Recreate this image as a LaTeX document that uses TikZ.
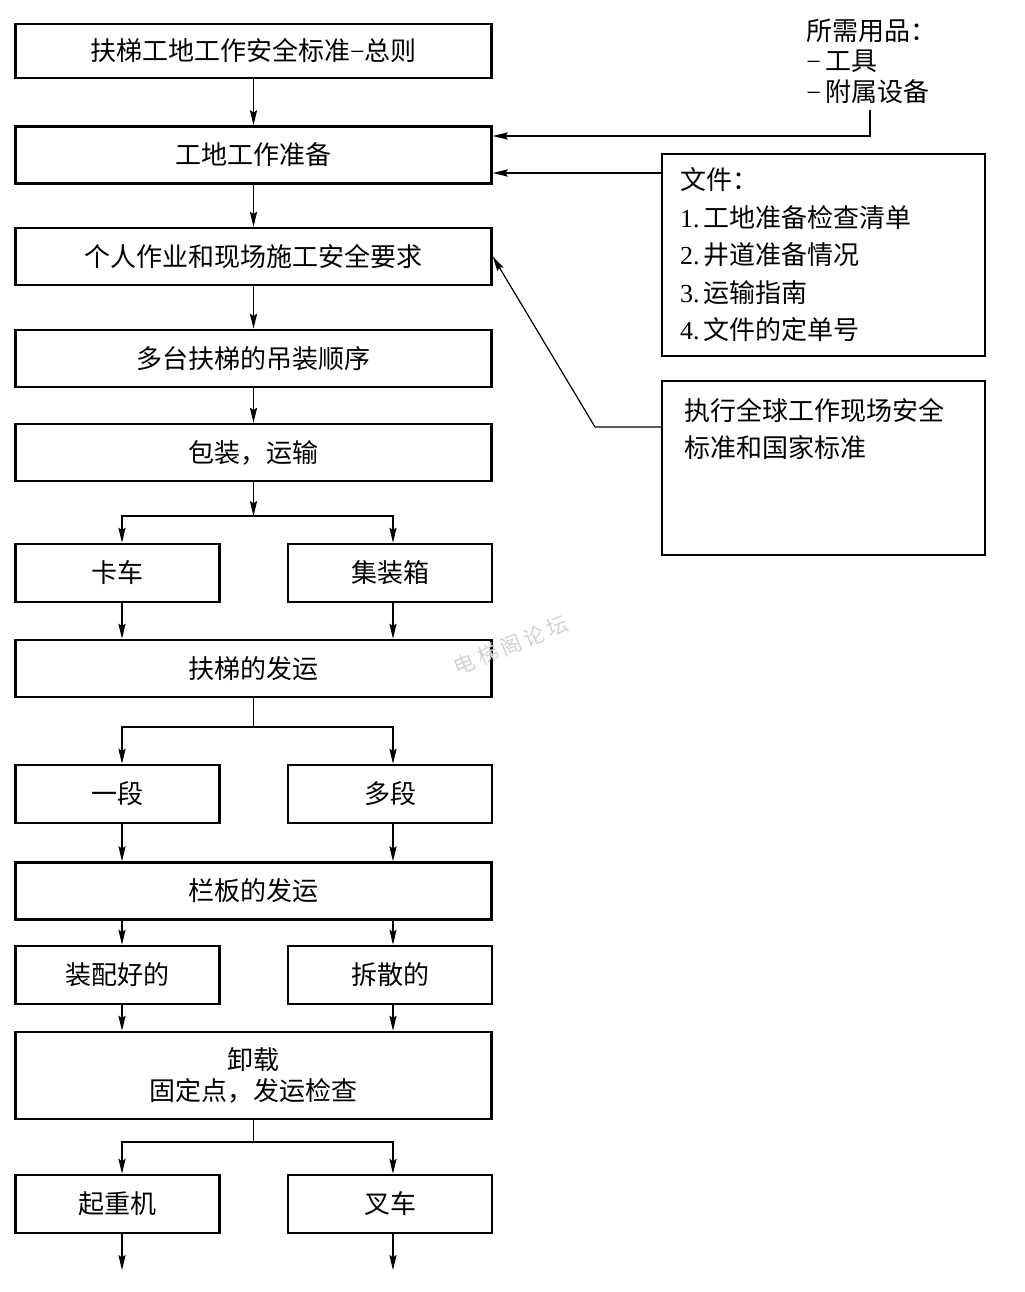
\documentclass[tikz,border=0pt]{standalone}
\usepackage{fontspec}
\setmainfont{Liberation Serif}
\newfontfamily\cjk{Noto Sans CJK SC}
\usetikzlibrary{arrows.meta}
\newcommand{\rmn}[1]{{\rmfamily #1}}
\begin{document}
\begin{tikzpicture}[x=0.5pt,y=-0.5pt,
  txt/.style={font=\cjk\fontsize{13}{15.5}\selectfont},
  box/.style={txt, draw, line width=1.3pt, minimum width=238pt, minimum height=28.5pt, inner sep=0pt, align=center},
  sbox/.style={box, minimum width=102pt, minimum height=29pt},
  conn/.style={line width=0.6pt},
  arr/.style={conn, -{Stealth[length=7.5pt,width=3.6pt,inset=1.2pt]}},
]
\useasboundingbox (0,0) rectangle (1024,1292);

% main column
\node[box, minimum height=27pt] (b1) at (253.5,51) {扶梯工地工作安全标准\rmn{−}总则};
\node[box] (b2) at (253.5,155) {工地工作准备};
\node[box] (b3) at (253.5,256.5) {个人作业和现场施工安全要求};
\node[box] (b4) at (253.5,358.5) {多台扶梯的吊装顺序};
\node[box] (b5) at (253.5,452.5) {包装，运输};
\node[sbox] (truck) at (117.5,573) {卡车};
\node[sbox] (cont) at (390,573) {集装箱};
\node[box] (b6) at (253.5,668.5) {扶梯的发运};
\node[sbox] (one) at (117.5,794) {一段};
\node[sbox] (multi) at (390,794) {多段};
\node[box] (b7) at (253.5,891) {栏板的发运};
\node[sbox] (asm) at (117.5,975) {装配好的};
\node[sbox] (dis) at (390,975) {拆散的};
\node[box, minimum height=43.5pt] (b8) at (253.5,1075.5) {卸载\\固定点，发运检查};
\node[sbox] (crane) at (117.5,1204) {起重机};
\node[sbox] (fork) at (390,1204) {叉车};

% columns and junctions
\coordinate (xl) at (122,0);
\coordinate (xr) at (393,0);
\coordinate (j1) at (253.5,516);
\coordinate (j2) at (253.5,727);
\coordinate (j3) at (253.5,1142);
\coordinate (endl) at (122,1270);
\coordinate (endr) at (393,1270);

\draw[arr] (b1) -- (b2);
\draw[arr] (b2) -- (b3);
\draw[arr] (b3) -- (b4);
\draw[arr] (b4) -- (b5);
\draw[arr] (b5.south) -- (j1);
\draw[arr] (j1) -| (truck.north -| xl);
\draw[arr] (j1) -| (cont.north -| xr);
\draw[arr] (truck.south -| xl) -- (b6.north -| xl);
\draw[arr] (cont.south -| xr) -- (b6.north -| xr);
\draw[conn] (b6.south) -- (j2);
\draw[arr] (j2) -| (one.north -| xl);
\draw[arr] (j2) -| (multi.north -| xr);
\draw[arr] (one.south -| xl) -- (b7.north -| xl);
\draw[arr] (multi.south -| xr) -- (b7.north -| xr);
\draw[arr] (b7.south -| xl) -- (asm.north -| xl);
\draw[arr] (b7.south -| xr) -- (dis.north -| xr);
\draw[arr] (asm.south -| xl) -- (b8.north -| xl);
\draw[arr] (dis.south -| xr) -- (b8.north -| xr);
\draw[conn] (b8.south) -- (j3);
\draw[arr] (j3) -| (crane.north -| xl);
\draw[arr] (j3) -| (fork.north -| xr);
\draw[arr] (crane.south -| xl) -- (endl);
\draw[arr] (fork.south -| xr) -- (endr);

% right side
\node[anchor=base west, align=left, inner sep=0pt, font=\cjk\fontsize{13}{15.25}\selectfont] (req) at (806,101)
  {所需用品：\\\rmn{−\,}工具\\\rmn{−\,}附属设备};
\coordinate (reqend) at (870,110);
\coordinate (k1) at (870,136);
\draw[arr] (reqend) -- (k1) -- (k1 -| b2.east);

\node[draw, line width=1.3pt, minimum width=161.5pt, minimum height=101pt, inner xsep=9pt,
  text width=143.5pt, align=left, font=\cjk\fontsize{13}{18.75}\selectfont] (docs) at (823.5,255)
  {文件：\\\rmn{1.\,}工地准备检查清单\\\rmn{2.\,}井道准备情况\\\rmn{3.\,}运输指南\\\rmn{4.\,}文件的定单号};
\coordinate (d1) at (662,173);
\draw[arr] (d1) -- (d1 -| b2.east);

\node[draw, line width=1.3pt, minimum width=161.5pt, minimum height=87pt] (std) at (823.5,468) {};
\node[anchor=base west, align=left, inner sep=0pt, font=\cjk\fontsize{13}{18.5}\selectfont] (stdtext) at (684,457)
  {执行全球工作现场安全\\标准和国家标准};
\coordinate (s1) at (662,427);
\coordinate (s2) at (595,427);
\draw[arr] (s1) -- (s2) -- (b3.east);

% watermark
\node[rotate=22, text=gray!35, font=\cjk\fontsize{10.5}{11}\selectfont] (wm) at (511,645)
  {电\hspace{2pt}梯\hspace{2pt}阁\hspace{2pt}论\hspace{2pt}坛};
\end{tikzpicture}
\end{document}
